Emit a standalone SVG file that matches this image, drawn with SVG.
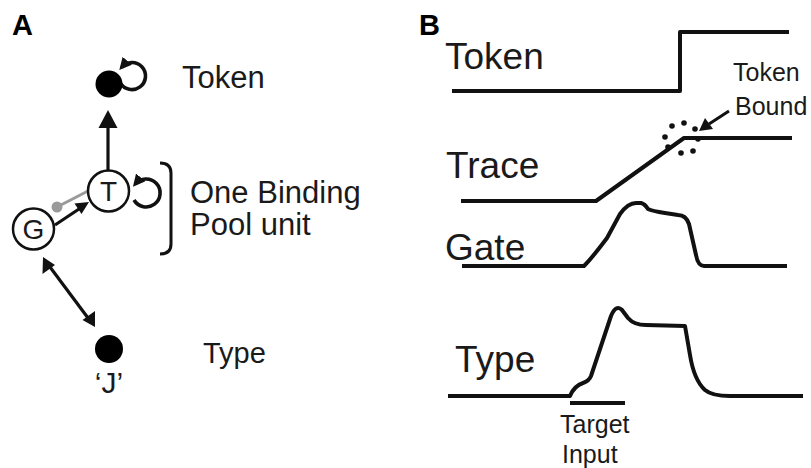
<svg xmlns="http://www.w3.org/2000/svg" width="811" height="468" viewBox="0 0 811 468">
<style>
text{font-family:"Liberation Sans",Arial,sans-serif;fill:#1a1a1a}
.lab{font-weight:bold;font-size:29px;fill:#000}
.a{font-size:31px}
.b{font-size:37px}
.s{font-size:25px}
.node{fill:#fff;stroke:#111;stroke-width:2.5}
.conn{fill:none;stroke:#111;stroke-width:3.2}
.loop{fill:none;stroke:#111;stroke-width:3.6;marker-end:url(#lh)}
.trace{fill:none;stroke:#111;stroke-width:4;stroke-linejoin:round}
.head{fill:#111}
</style>
<defs>
<marker id="lh" viewBox="0 0 10 10" refX="7" refY="5" markerWidth="3.4" markerHeight="3.4" orient="auto" markerUnits="strokeWidth">
<path d="M0,0 L10,5 L0,10 Z" fill="#111"/>
</marker>
</defs>
<rect width="811" height="468" fill="#fff"/>

<text class="lab" x="12" y="35">A</text>
<text class="lab" x="419" y="35">B</text>

<g id="connectors">
<line class="conn" x1="108" y1="170" x2="108" y2="126" stroke-width="3.6"/>
<polygon class="head" points="108,110 98.5,128 117.5,128"/>
<line x1="57" y1="207" x2="88" y2="191" stroke="#9a9a9a" stroke-width="3"/>
<circle cx="57" cy="207" r="5.5" fill="#9a9a9a"/>
<line class="conn" x1="55" y1="225" x2="79" y2="209"/>
<polygon class="head" points="89,202 74.5,203.5 81.5,214"/>
<line class="conn" x1="50" y1="267" x2="88" y2="318" stroke-width="3.4"/>
<polygon class="head" points="43,257 42.5,274 55,265"/>
<polygon class="head" points="95,327 82.5,320 95,311"/>
<path class="loop" d="M120.3,82.8 A13.5,13.5 0 1 0 121.7,67.3"/>
<path class="loop" d="M134,200 A14,14 0 1 0 135.3,184"/>
</g>

<g id="node-token">
<circle cx="109" cy="84" r="13.5" fill="#000"/>
<text class="a" x="182" y="88">Token</text>
</g>
<g id="node-T">
<circle class="node" cx="108.5" cy="191" r="20.5"/>
<text x="108.5" y="201" font-size="28" text-anchor="middle">T</text>
</g>
<g id="node-G">
<circle class="node" cx="33.5" cy="229" r="20.5"/>
<text x="33.5" y="239" font-size="28" text-anchor="middle">G</text>
</g>
<g id="binding-pool">
<path d="M160,163 Q171,163 171,173 L171,244 Q171,254 160,254" fill="none" stroke="#111" stroke-width="3"/>
<text class="a" x="190" y="203">One Binding</text>
<text class="a" x="190" y="235">Pool unit</text>
</g>
<g id="node-type">
<circle cx="109" cy="349" r="14" fill="#000"/>
<text x="109" y="393" font-size="30" text-anchor="middle">‘J’</text>
<text x="203" y="363" font-size="29">Type</text>
</g>

<g id="panel-B">
<text class="b" x="445" y="69">Token</text>
<path class="trace" d="M452,91 L680,91 L680,32 L789,32"/>
<text class="s" x="733" y="81">Token</text>
<text class="s" x="735" y="115">Bound</text>
<line x1="729" y1="111" x2="709" y2="124" stroke="#111" stroke-width="3"/>
<polygon class="head" points="699,131 705,118 713,129"/>
<g fill="#111">
<circle cx="665" cy="137" r="2.8"/>
<circle cx="672" cy="126" r="2.8"/>
<circle cx="684" cy="123" r="2.8"/>
<circle cx="695" cy="129" r="2.8"/>
<circle cx="698" cy="139" r="2.8"/>
<circle cx="693" cy="151" r="2.8"/>
<circle cx="681" cy="153" r="2.8"/>
<circle cx="668" cy="147" r="2.8"/>
</g>
<text class="b" x="446" y="178">Trace</text>
<path class="trace" d="M461,201 L596,201 L684,138 L792,138"/>
<text class="b" x="445" y="260">Gate</text>
<path class="trace" d="M462,266 L584,266 Q592,258 607,238 L620,214 Q628,203 636,203 L641,203 Q645,204 648,209 Q652,211 665,213 L678,215 Q686,215 689,224 L696,255 Q698,266 704,266 L787,266"/>
<text class="b" x="455" y="372">Type</text>
<path class="trace" stroke-width="3.2" d="M448,396 L570,396 Q574,386 583,383 Q589,381 591,376 L611,316 Q616,304 622,310 L628,318 Q634,325 646,325 L685,326 L690,355 Q694,380 705,390 Q712,396 730,396 L803,396"/>
<line x1="570" y1="403" x2="625" y2="403" stroke="#111" stroke-width="4"/>
<text class="s" x="560" y="433">Target</text>
<text class="s" x="562" y="463">Input</text>
</g>
</svg>
